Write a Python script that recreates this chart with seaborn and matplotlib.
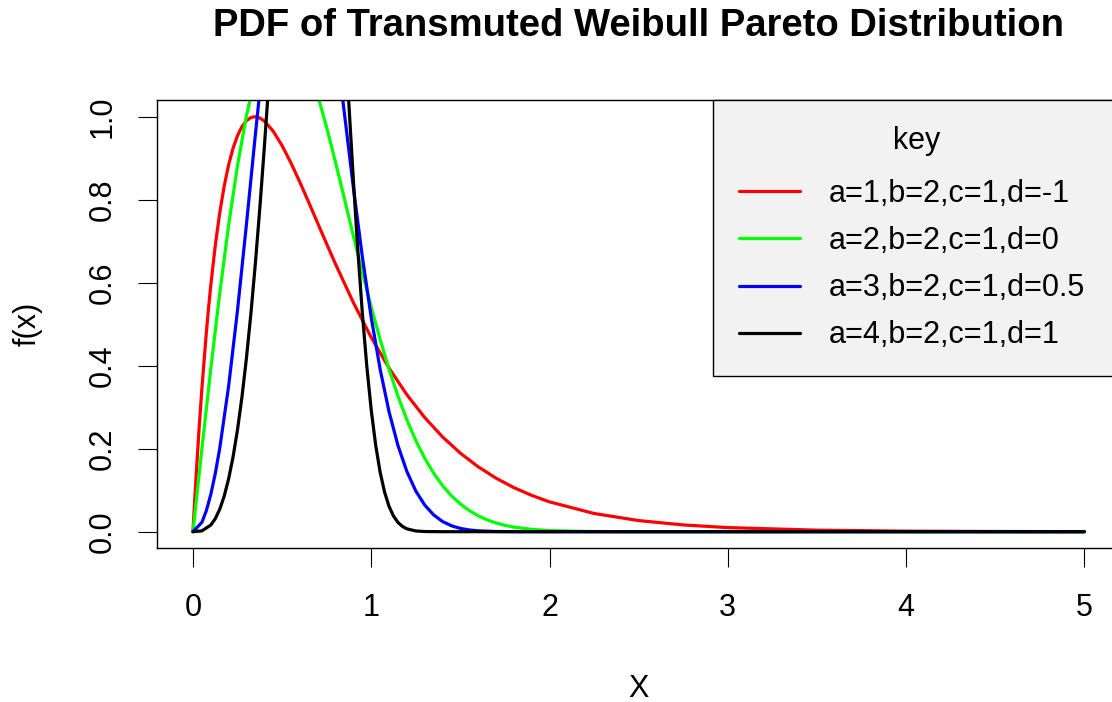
import matplotlib
matplotlib.use("Agg")
import matplotlib.pyplot as plt
import seaborn as sns
import pandas as pd

# ---- data ----
labels = ["a=1,b=2,c=1,d=-1", "a=2,b=2,c=1,d=0", "a=3,b=2,c=1,d=0.5", "a=4,b=2,c=1,d=1"]
colors = ["#FF0000", "#00FF00", "#0000FF", "#000000"]

red_x = [0, 0.005, 0.01, 0.02, 0.035, 0.05, 0.075, 0.0875, 0.1, 0.125, 0.15, 0.175, 0.2,
         0.225, 0.25, 0.275, 0.3, 0.325, 0.35, 0.375, 0.4, 0.45, 0.5, 0.55, 0.6, 0.65, 0.7,
         0.75, 0.8, 0.9, 1.0, 1.1, 1.2, 1.3, 1.4, 1.5, 1.6, 1.7, 1.8, 1.9, 2.0, 2.25, 2.5,
         2.75, 3.0, 3.5, 4.0, 4.5, 5.0]
red_y = [0, 0.0394, 0.0776, 0.1507, 0.2521, 0.3444, 0.4796, 0.5391, 0.5936, 0.6891, 0.7680,
         0.8324, 0.8840, 0.9242, 0.9546, 0.9763, 0.9905, 0.9981, 1.0000, 0.9969, 0.9897,
         0.9651, 0.9302, 0.8883, 0.8419, 0.7930, 0.7431, 0.6934, 0.6445, 0.5519, 0.4681,
         0.3941, 0.3300, 0.2750, 0.2284, 0.1892, 0.1564, 0.1290, 0.1063, 0.0875, 0.0719,
         0.0439, 0.0268, 0.0163, 0.0099, 0.0037, 0.0013, 0.0005, 0.0002]

green_x = [0, 0.05, 0.1, 0.15, 0.2, 0.25, 0.3, 0.35, 0.4, 0.45, 0.5, 0.55, 0.6, 0.65, 0.7,
           0.75, 0.8, 0.85, 0.9, 0.95, 1.0, 1.05, 1.1, 1.15, 1.2, 1.25, 1.3, 1.35, 1.4, 1.45,
           1.5, 1.55, 1.6, 1.65, 1.7, 1.75, 1.8, 1.9, 2.0, 2.2, 2.5, 3.0, 5.0]
green_y = [0, 0.1990, 0.3921, 0.5736, 0.7385, 0.8825, 1.0023, 1.0958, 1.1618, 1.2006, 1.2131,
           1.2014, 1.1682, 1.1168, 1.0509, 0.9740, 0.8897, 0.8015, 0.7124, 0.6250, 0.5413,
           0.4631, 0.3913, 0.3266, 0.2694, 0.2197, 0.1770, 0.1411, 0.1111, 0.0865, 0.0667,
           0.0508, 0.0382, 0.0285, 0.0210, 0.0153, 0.0110, 0.0056, 0.0027, 0.0006, 0.0,
           0.0, 0.0]

blue_x = [0, 0.05, 0.075, 0.1, 0.125, 0.15, 0.2, 0.25, 0.3, 0.35, 0.4, 0.45, 0.5, 0.55, 0.6,
          0.65, 0.7, 0.75, 0.8, 0.85, 0.9, 0.95, 1.0, 1.05, 1.1, 1.15, 1.2, 1.25, 1.3, 1.35,
          1.4, 1.45, 1.5, 1.55, 1.6, 1.7, 1.8, 2.0, 5.0]
blue_y = [0, 0.0225, 0.0506, 0.0897, 0.1397, 0.2002, 0.3505, 0.5340, 0.7405, 0.9565, 1.1655,
          1.3502, 1.4939, 1.5836, 1.6115, 1.5770, 1.4858, 1.3501, 1.1849, 1.0064, 0.8286,
          0.6628, 0.5159, 0.3912, 0.2888, 0.2076, 0.1450, 0.0980, 0.0642, 0.0405, 0.0245,
          0.0143, 0.0079, 0.0042, 0.0021, 0.0005, 0.0001, 0.0, 0.0]

black_x = [0, 0.05, 0.1, 0.125, 0.15, 0.175, 0.2, 0.225, 0.25, 0.275, 0.3, 0.325, 0.35, 0.375,
           0.4, 0.425, 0.45, 0.5, 0.55, 0.6, 0.65, 0.7, 0.75, 0.8, 0.85, 0.875, 0.9, 0.925,
           0.95, 0.975, 1.0, 1.025, 1.05, 1.075, 1.1, 1.125, 1.15, 1.175, 1.2, 1.25, 1.3,
           1.4, 5.0]
black_y = [0, 0.0020, 0.0160, 0.0312, 0.0539, 0.0854, 0.1272, 0.1804, 0.2461, 0.3252, 0.4182,
           0.5253, 0.6460, 0.7796, 0.9243, 1.0780, 1.2374, 1.5576, 1.8460, 2.0580, 2.1516,
           2.1004, 1.9039, 1.5919, 1.2179, 1.0277, 0.8454, 0.6773, 0.5276, 0.3993, 0.2931,
           0.2083, 0.1432, 0.0951, 0.0609, 0.0376, 0.0223, 0.0127, 0.0069, 0.0018, 0.0004,
           0.0, 0.0]

x_ticks = [0, 1, 2, 3, 4, 5]
y_ticks = [0.0, 0.2, 0.4, 0.6, 0.8, 1.0]
y_tick_labels = ["0.0", "0.2", "0.4", "0.6", "0.8", "1.0"]

# ---- build long-form frame ----
frames = []
for lab, xs, ys in zip(labels, [red_x, green_x, blue_x, black_x], [red_y, green_y, blue_y, black_y]):
    frames.append(pd.DataFrame({"x": xs, "y": ys, "key": lab}))
df = pd.concat(frames, ignore_index=True)

sns.set_theme(style="white")
plt.rcParams["font.family"] = ["Liberation Sans", "DejaVu Sans"]

W, H = 1112, 702
fig = plt.figure(figsize=(W / 100, H / 100), dpi=100)
left_px, right_px, top_px, bottom_px = 157.3, 1120.0, 100.1, 548.3
ax = fig.add_axes([left_px / W, (H - bottom_px) / H, (right_px - left_px) / W, (bottom_px - top_px) / H])

sns.lineplot(data=df, x="x", y="y", hue="key", hue_order=labels,
             palette=dict(zip(labels, colors)), estimator=None, sort=True,
             linewidth=2.3, ax=ax)

ax.set_xlim(-0.2, 5.2)
ax.set_ylim(-0.04, 1.04)
ax.set_xticks(x_ticks)
ax.set_xticklabels([str(t) for t in x_ticks])
ax.set_yticks(y_ticks)
ax.set_yticklabels(y_tick_labels)

for sp in ax.spines.values():
    sp.set_visible(True)
    sp.set_color("black")
    sp.set_linewidth(1.0)

ax.tick_params(axis="both", direction="out", length=13.7, width=0.8, color="black",
               labelsize=22, labelcolor="black")
ax.tick_params(axis="x", bottom=True, pad=18.5)
ax.tick_params(axis="y", left=True, pad=15)
for t in ax.get_yticklabels():
    t.set_rotation(90)
    t.set_verticalalignment("center")

ax.set_title("PDF of Transmuted Weibull Pareto Distribution", fontsize=27.5,
             fontweight="bold", color="black", y=1.142, pad=0)
ax.set_xlabel("X", fontsize=22, color="black")
ax.set_ylabel("f(x)", fontsize=22, color="black")
ax.xaxis.set_label_coords(0.5, -0.280)
ax.yaxis.set_label_coords(-0.1187, 0.5)

handles, labs = ax.get_legend_handles_labels()
leg = ax.legend(handles, labs, title="key", loc="upper left",
                bbox_to_anchor=(0.5772, 0.0, 0.4228, 1.0), mode="expand",
                borderaxespad=0, fontsize=22, title_fontsize=22,
                frameon=True, fancybox=False, framealpha=1,
                edgecolor="black", facecolor="#F2F2F2",
                borderpad=0.85, labelspacing=0.56, handlelength=2.0,
                handletextpad=0.95)
leg._legend_box.sep = 16.5
leg.get_frame().set_linewidth(1.0)
for line in leg.get_lines():
    line.set_linewidth(2.3)
for txt in leg.get_texts():
    txt.set_color("black")
leg.get_title().set_color("black")

fig.savefig("out.png", dpi=100)
